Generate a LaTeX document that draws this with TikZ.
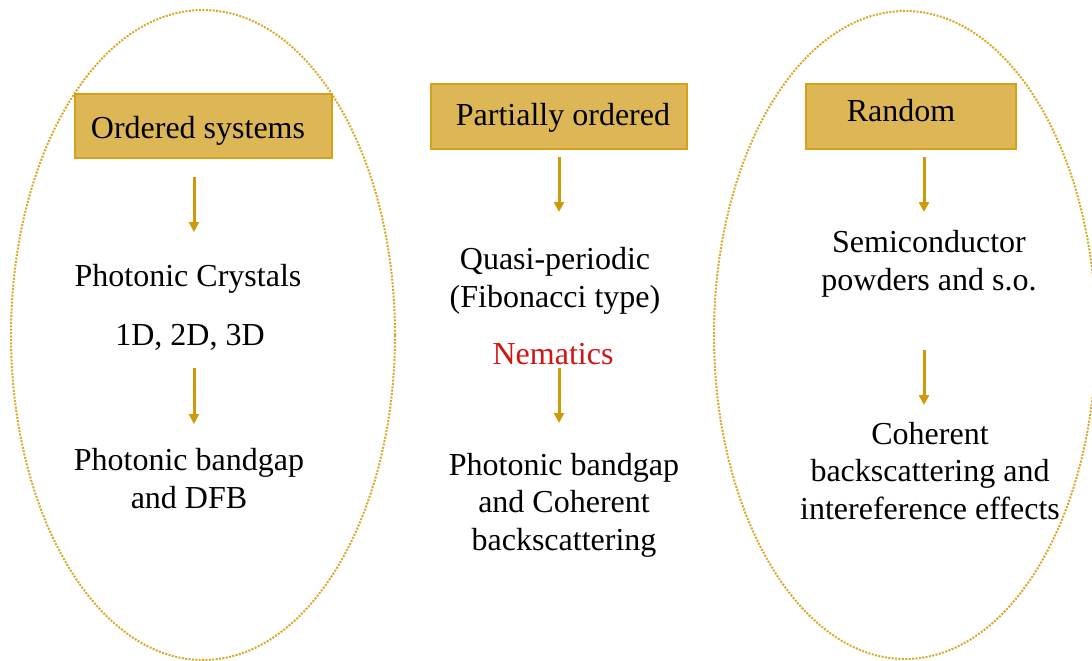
\documentclass[tikz,border=0pt]{standalone}
\usepackage{fontspec}
\setmainfont{Liberation Serif}
\usetikzlibrary{arrows.meta}
\definecolor{goldfill}{RGB}{221,183,85}
\definecolor{goldline}{RGB}{214,160,25}
\definecolor{arrowgold}{RGB}{205,155,10}
\definecolor{dotgold}{RGB}{220,168,40}
\definecolor{nemred}{RGB}{212,20,20}

\begin{document}
\begin{tikzpicture}[x=1pt,y=-1pt,
  catbox/.style={draw=goldline, line width=1.2pt, fill=goldfill, inner sep=0pt},
  txt/.style={font=\fontsize{32}{37.5}\selectfont, align=center, inner sep=0pt, anchor=base},
  downarrow/.style={draw=arrowgold, line width=3pt, -{Triangle[width=10pt,length=10pt]}},
  groupring/.style={draw=dotgold, line width=2pt, dash pattern=on 2pt off 1.4pt}]
\useasboundingbox (0,0) rectangle (1092,661);
\fill[white] (0,0) rectangle (1092,661);

% dotted outlines around the ordered and random groups
\draw[groupring] (203,335) ellipse [x radius=192pt, y radius=325pt];
\draw[groupring] (905,335) ellipse [x radius=191pt, y radius=324pt];

% heading boxes
\node[catbox, minimum width=257pt, minimum height=64pt] (ordbox) at (203.5,126) {};
\node[catbox, minimum width=256pt, minimum height=65pt] (parbox) at (559,116.5) {};
\node[catbox, minimum width=210pt, minimum height=65pt] (rndbox) at (911,116.5) {};
\node[txt] (ordtxt) at (198,138) {Ordered systems};
\node[txt] (partxt) at (563,125) {Partially ordered};
\node[txt] (rndtxt) at (901,121) {Random};

% ordered column (base = last line)
\node[txt] (crys) at (188,286) {Photonic Crystals};
\node[txt] (dims) at (190,345) {1D, 2D, 3D};
\node[txt] (bgap) at (189,508) {Photonic bandgap\\and DFB};

% partially ordered column
\node[txt] (quasi) at (555,307) {Quasi-periodic\\(Fibonacci type)};
\node[txt, text=nemred] (nem) at (553,364) {Nematics};
\node[txt] (bgcoh) at (564,550) {Photonic bandgap\\and Coherent\\backscattering};

% random column
\node[txt] (semi) at (929,290) {Semiconductor\\powders and s.o.};
\node[txt] (cohb) at (930,519) {Coherent\\backscattering and\\intereference effects};

% arrow end points
\coordinate (a1s) at (194,177); \coordinate (a1e) at (194,232);
\coordinate (a2s) at (194,368); \coordinate (a2e) at (194,424);
\coordinate (b1s) at (559,157); \coordinate (b1e) at (559,212);
\coordinate (b2s) at (559,368); \coordinate (b2e) at (559,423);
\coordinate (c1s) at (924,157); \coordinate (c1e) at (924,212);
\coordinate (c2s) at (924,350); \coordinate (c2e) at (924,405);

\draw[downarrow] (a1s) -- (a1e);
\draw[downarrow] (a2s) -- (a2e);
\draw[downarrow] (b1s) -- (b1e);
\draw[downarrow] (b2s) -- (b2e);
\draw[downarrow] (c1s) -- (c1e);
\draw[downarrow] (c2s) -- (c2e);
\end{tikzpicture}
\end{document}
